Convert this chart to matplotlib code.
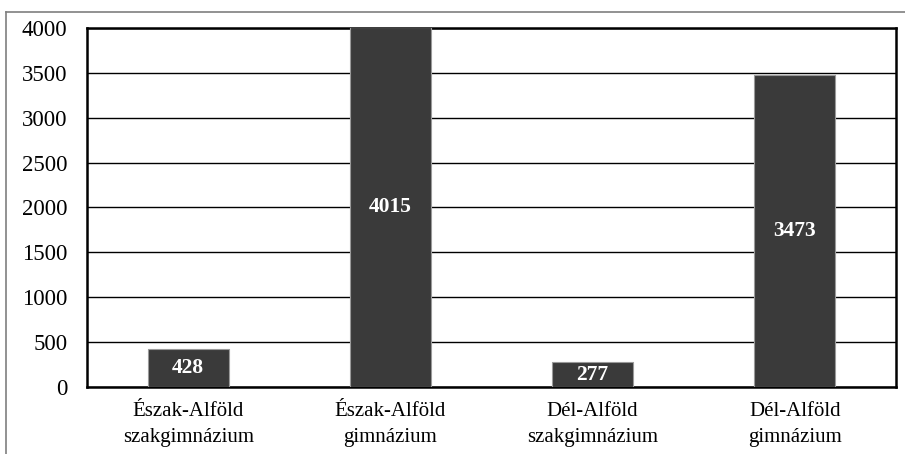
import matplotlib.pyplot as plt
from matplotlib.lines import Line2D

# Adatok
categories = ['Észak-Alföld\nszakgimnázium', 'Észak-Alföld\ngimnázium',
              'Dél-Alföld\nszakgimnázium', 'Dél-Alföld\ngimnázium']
values = [428, 4015, 277, 3473]
yticks = [0, 500, 1000, 1500, 2000, 2500, 3000, 3500, 4000]

plt.rcParams['font.family'] = ['Liberation Serif', 'DejaVu Serif']

fig = plt.figure(figsize=(9.05, 4.54), dpi=100)
W, H = 905, 454
ax = fig.add_axes([87 / W, 1 - 387 / H, (896 - 87) / W, (387 - 28) / H])

# külső keret (csak felül és balra látszik)
fig.add_artist(Line2D([6 / W, 1], [1 - 12 / H, 1 - 12 / H], color='#7f7f7f', lw=1.2,
                      transform=fig.transFigure))
fig.add_artist(Line2D([6 / W, 6 / W], [0, 1 - 12 / H], color='#7f7f7f', lw=1.2,
                      transform=fig.transFigure))

x = range(len(categories))
bars = ax.bar(x, values, width=0.4, color='#3a3a3a', edgecolor='#9a9a9a', linewidth=0.8,
              zorder=3)

ax.set_ylim(0, 4000)
ax.set_xlim(-0.5, len(categories) - 0.5)
ax.set_yticks(yticks)
ax.set_xticks(list(x))
ax.set_xticklabels(categories, fontsize=15, linespacing=1.45)
ax.tick_params(axis='y', labelsize=16.5, length=0, pad=14)
ax.tick_params(axis='x', length=0, pad=11)
ax.yaxis.grid(True, color='black', lw=1.0, zorder=1)

for s in ax.spines.values():
    s.set_color('black')
    s.set_linewidth(1.8)

for b, v in zip(bars, values):
    top = min(v, 4000)
    ax.text(b.get_x() + b.get_width() / 2, top / 2, str(v), ha='center', va='center',
            color='white', fontsize=15.5, fontweight='bold', zorder=4)

fig.savefig('out.png', dpi=100)
